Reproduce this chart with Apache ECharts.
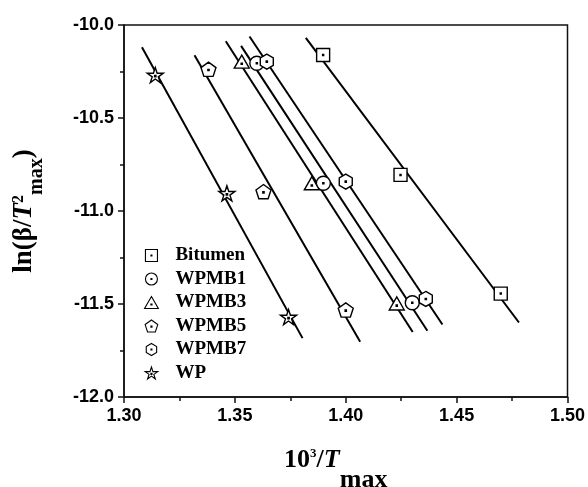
<!DOCTYPE html>
<html><head><meta charset="utf-8">
<script src="https://cdn.jsdelivr.net/npm/echarts@6/dist/echarts.min.js"></script>
<style>html,body{margin:0;padding:0;background:#fff}#c{width:588px;height:487px}</style>
</head><body><div id="c"></div>
<script>
// ---- data ----
const seriesNames = ['Bitumen', 'WPMB1', 'WPMB3', 'WPMB5', 'WPMB7', 'WP'];
const bitumenX = [1.3898, 1.4247, 1.4699];
const bitumenY = [-10.161, -10.806, -11.444];
const wpmb1X = [1.3599, 1.3899, 1.4300];
const wpmb1Y = [-10.206, -10.851, -11.493];
const wpmb3X = [1.3531, 1.3847, 1.4230];
const wpmb3Y = [-10.197, -10.851, -11.497];
const wpmb5X = [1.3381, 1.3629, 1.4000];
const wpmb5Y = [-10.238, -10.896, -11.532];
const wpmb7X = [1.3644, 1.4000, 1.4361];
const wpmb7Y = [-10.197, -10.842, -11.473];
const wpX = [1.3141, 1.3464, 1.3742];
const wpY = [-10.269, -10.905, -11.570];
// x-extent of each drawn linear fit line
const fitXStart = [1.3820, 1.3528, 1.3459, 1.3318, 1.3566, 1.3081];
const fitXEnd   = [1.4781, 1.4368, 1.4302, 1.4065, 1.4436, 1.3805];
// axis ticks
const xTickLabels = ['1.30', '1.35', '1.40', '1.45', '1.50'];
const yTickLabels = ['-12.0', '-11.5', '-11.0', '-10.5', '-10.0'];

const allX = [bitumenX, wpmb1X, wpmb3X, wpmb5X, wpmb7X, wpX];
const allY = [bitumenY, wpmb1Y, wpmb3Y, wpmb5Y, wpmb7Y, wpY];

// ---- marker shapes (hollow with a centre dot) ----
const dot = (cx, cy) => ` M${cx-4},${cy-4} L${cx+4},${cy-4} L${cx+4},${cy+4} L${cx-4},${cy+4} Z`;
const symbols = [
  'path://M0,0 L100,0 L100,100 L0,100 Z' + dot(50, 50),
  'path://M50,0 A50,50 0 1,1 50,100 A50,50 0 1,1 50,0 Z' + dot(50, 50),
  'path://M50,0 L100,87 L0,87 Z' + dot(50, 58),
  'path://M50,0 L97.55,34.55 L79.39,90.45 L20.61,90.45 L2.45,34.55 Z' + dot(50, 50),
  'path://M50,0 L93.3,25 L93.3,75 L50,100 L6.7,75 L6.7,25 Z' + dot(50, 50),
  'path://M50,0 L61.17,34.63 L97.55,34.55 L68.07,55.87 L79.39,90.45 L50,69 L20.61,90.45 L31.93,55.87 L2.45,34.55 L38.83,34.63 Z' + dot(50, 52)
];
const symbolSizes = [13, 14, 15, 15, 15, 16];

function fit(xs, ys) {
  const n = xs.length;
  const mx = xs.reduce((a, b) => a + b, 0) / n;
  const my = ys.reduce((a, b) => a + b, 0) / n;
  let sxy = 0, sxx = 0;
  for (let i = 0; i < n; i++) { sxy += (xs[i] - mx) * (ys[i] - my); sxx += (xs[i] - mx) ** 2; }
  const b = sxy / sxx;
  return { a: my - b * mx, b };
}

const series = [];
seriesNames.forEach((name, i) => {
  const f = fit(allX[i], allY[i]);
  series.push({
    name: name + ' fit', type: 'line', silent: true, showSymbol: false, symbol: 'none',
    data: [[fitXStart[i], f.a + f.b * fitXStart[i]], [fitXEnd[i], f.a + f.b * fitXEnd[i]]],
    lineStyle: { color: '#000', width: 2 }, z: 2
  });
});
seriesNames.forEach((name, i) => {
  series.push({
    name, type: 'scatter', symbol: symbols[i], symbolSize: symbolSizes[i], symbolKeepAspect: true,
    data: allX[i].map((x, j) => [x, allY[i][j]]),
    itemStyle: { color: '#fff', borderColor: '#000', borderWidth: 1.4, opacity: 1 }, z: 5
  });
});

const serif = "'Liberation Serif', 'Times New Roman', serif";
const sans = "'Liberation Sans', Arial, sans-serif";

const chart = echarts.init(document.getElementById('c'), null, { renderer: 'canvas' });
chart.setOption({
  animation: false,
  backgroundColor: '#fff',
  grid: { left: 124, right: 20.5, top: 25, bottom: 90, containLabel: false, outerBoundsMode: 'none',
    show: true, borderColor: '#111', borderWidth: 1.5, backgroundColor: 'transparent' },
  legend: {
    data: seriesNames, orient: 'vertical', left: 144, top: 246, padding: 0,
    itemWidth: 38, itemHeight: 12, itemGap: 4.5, symbolKeepAspect: true,
    itemStyle: { borderWidth: 1.1 },
    textStyle: { fontFamily: serif, fontWeight: 'bold', fontSize: 19, color: '#000', lineHeight: 18 }
  },
  xAxis: {
    type: 'value', min: 1.30, max: 1.50, interval: 0.05,
    axisLine: { show: true, lineStyle: { color: '#111', width: 1.5 } },
    axisTick: { show: true, inside: false, length: 6, lineStyle: { color: '#111', width: 1.5 } },
    minorTick: { show: true, splitNumber: 2, length: 4, lineStyle: { color: '#111', width: 1.5 } },
    splitLine: { show: false },
    axisLabel: { margin: 10, fontFamily: sans, fontWeight: 'bold', fontSize: 18, color: '#000',
      formatter: v => xTickLabels[Math.round((v - 1.30) / 0.05)] },
    name: '{n|10}{sp|3}{n|/}{i|T}{sb|max}', nameLocation: 'middle', nameGap: 50,
    nameTextStyle: {
      padding: [0, 20, 0, 0],
      rich: {
        n: { fontFamily: serif, fontWeight: 'bold', fontSize: 26, color: '#000', lineHeight: 30, verticalAlign: 'top' },
        i: { fontFamily: serif, fontWeight: 'bold', fontStyle: 'italic', fontSize: 26, color: '#000', lineHeight: 30, verticalAlign: 'top' },
        sp: { fontFamily: serif, fontWeight: 'bold', fontSize: 13, color: '#000', lineHeight: 10, verticalAlign: 'top' },
        sb: { fontFamily: serif, fontWeight: 'bold', fontSize: 26, color: '#000', lineHeight: 66, verticalAlign: 'middle' }
      }
    }
  },
  yAxis: {
    type: 'value', min: -12, max: -10, interval: 0.5,
    axisLine: { show: true, lineStyle: { color: '#111', width: 1.5 } },
    axisTick: { show: true, inside: false, length: 6, lineStyle: { color: '#111', width: 1.5 } },
    minorTick: { show: true, splitNumber: 2, length: 4, lineStyle: { color: '#111', width: 1.5 } },
    splitLine: { show: false },
    axisLabel: { margin: 10, fontFamily: sans, fontWeight: 'bold', fontSize: 18, color: '#000',
      formatter: v => yTickLabels[Math.round((v + 12) / 0.5)] },
    name: '{n|ln(β/}{i|T}{sp|2}{sb|max}{n|)}', nameLocation: 'middle', nameGap: 61, nameRotate: 90,
    nameTextStyle: {
      rich: {
        n: { fontFamily: serif, fontWeight: 'bold', fontSize: 27, color: '#000', lineHeight: 30, verticalAlign: 'top' },
        i: { fontFamily: serif, fontWeight: 'bold', fontStyle: 'italic', fontSize: 27, color: '#000', lineHeight: 30, verticalAlign: 'top' },
        sp: { fontFamily: serif, fontWeight: 'bold', fontSize: 16, color: '#000', lineHeight: 2, verticalAlign: 'top' },
        sb: { fontFamily: serif, fontWeight: 'bold', fontSize: 20, color: '#000', lineHeight: 52, verticalAlign: 'middle' }
      }
    }
  },
  series
});
</script>
</body></html>
